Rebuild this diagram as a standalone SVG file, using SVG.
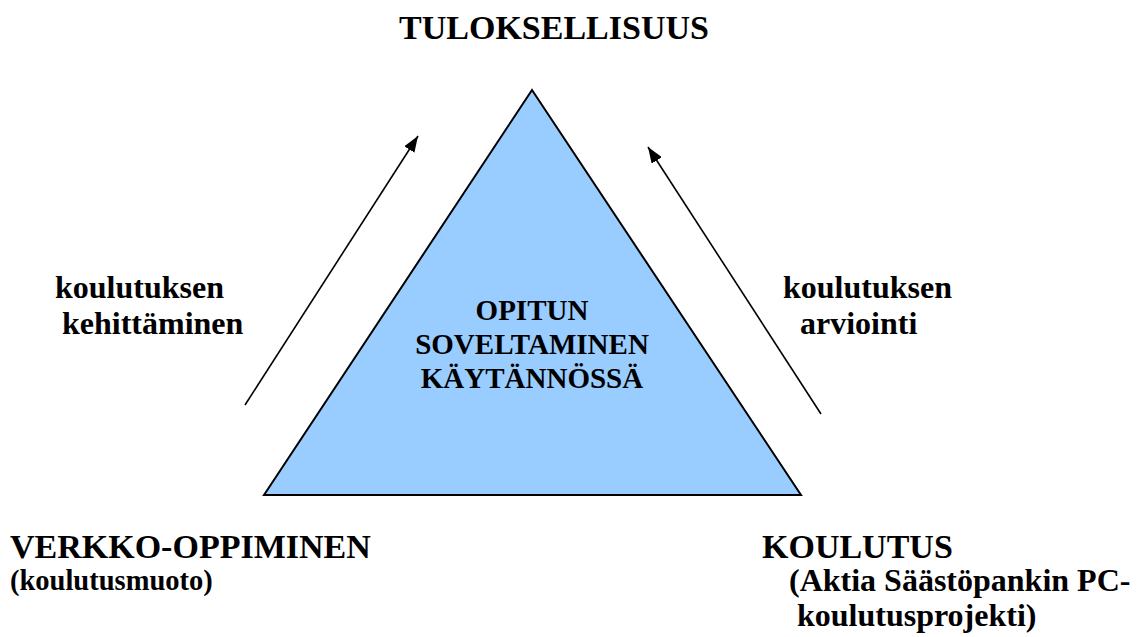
<svg xmlns="http://www.w3.org/2000/svg" width="1140" height="637" viewBox="0 0 1140 637">
<style>
text{font-family:"Liberation Serif","Times New Roman",serif;font-weight:bold;fill:#000}
.h{font-size:34px}
.m{font-size:32px}
.s{font-size:28.5px}
.c{font-size:29px;text-anchor:middle}
.line{stroke:#000;stroke-width:1.6;fill:none}
</style>
<defs>
<marker id="ah" viewBox="0 0 16 12" refX="16" refY="6" markerWidth="16" markerHeight="12" markerUnits="userSpaceOnUse" orient="auto">
<path d="M0,0 L16,6 L0,12 z" fill="#000"/>
</marker>
</defs>
<rect width="1140" height="637" fill="#fff"/>
<g id="triangle">
<polygon points="532,90 264,495 801,495" fill="#99CCFF" stroke="#000" stroke-width="2"/>
<text class="c" x="532" y="320">OPITUN</text>
<text class="c" x="532" y="354">SOVELTAMINEN</text>
<text class="c" x="532" y="388">KÄYTÄNNÖSSÄ</text>
</g>
<g id="tuloksellisuus">
<text class="h" x="554" y="39" text-anchor="middle">TULOKSELLISUUS</text>
</g>
<g id="verkko">
<text class="h" x="10" y="558">VERKKO-OPPIMINEN</text>
<text class="s" x="10" y="590">(koulutusmuoto)</text>
</g>
<g id="koulutus">
<text class="h" x="762" y="558">KOULUTUS</text>
<text class="m" x="789" y="591">(Aktia Säästöpankin PC-</text>
<text class="m" x="797" y="626">koulutusprojekti)</text>
</g>
<g id="label-left">
<text class="m" x="55" y="298">koulutuksen</text>
<text class="m" x="62" y="334">kehittäminen</text>
</g>
<g id="label-right">
<text class="m" x="783" y="298">koulutuksen</text>
<text class="m" x="800" y="334">arviointi</text>
</g>
<g id="connectors">
<line class="line" x1="245" y1="405" x2="418" y2="136" marker-end="url(#ah)"/>
<line class="line" x1="821" y1="414" x2="648" y2="147" marker-end="url(#ah)"/>
</g>
</svg>
